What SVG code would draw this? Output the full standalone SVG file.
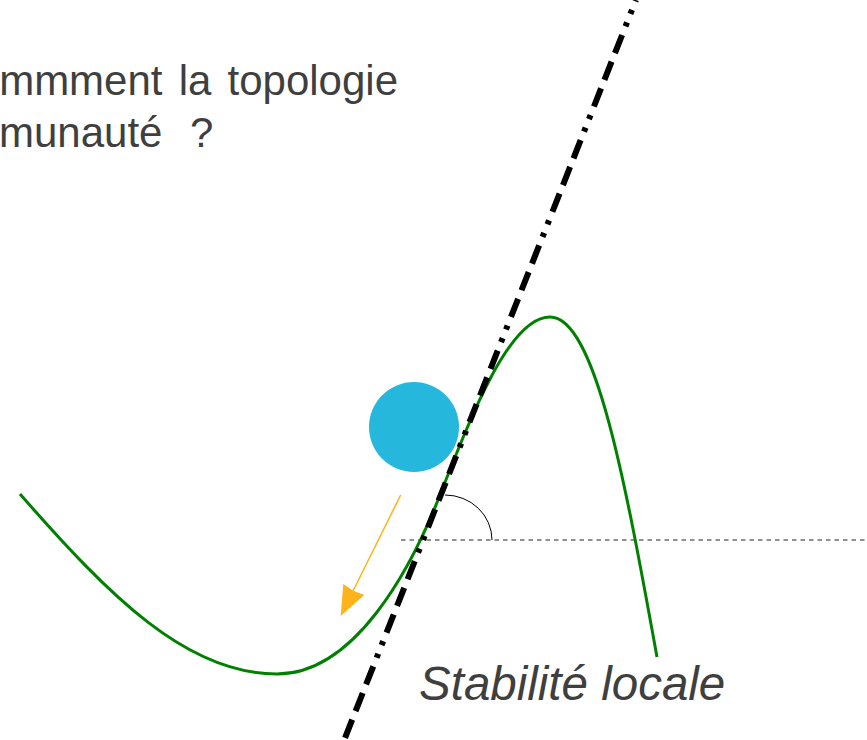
<svg xmlns="http://www.w3.org/2000/svg" width="867" height="740" viewBox="0 0 867 740">
  <style>
    .title { font-family: "Liberation Sans", Arial, sans-serif; font-size: 42px; fill: #3f3f3f; }
    .label { font-family: "Liberation Sans", Arial, sans-serif; font-size: 47.5px; font-style: italic; fill: #3f3f3f; }
  </style>
  <rect width="867" height="740" fill="#ffffff"/>
  <g id="title">
    <text class="title" x="398" y="95" text-anchor="end" word-spacing="4.5">mmment la topologie</text>
    <text class="title" x="-1" y="147" word-spacing="16">munauté ?</text>
  </g>
  <g id="reference-lines">
    <line x1="401" y1="540" x2="867" y2="540" stroke="#222222" stroke-width="1" stroke-dasharray="4.5 4"/>
    <path d="M445,495 A47,45 0 0 1 492,540" fill="none" stroke="#000000" stroke-width="1"/>
  </g>
  <g id="curve">
    <path d="M20,494 C110,597 187,674 277,674 C355,674 411,569 440,495 C473,411 510,317 550,317 C595,317 625,480 657,657" fill="none" stroke="#008000" stroke-width="3"/>
  </g>
  <g id="ball">
    <circle cx="414" cy="427" r="45" fill="#26b7dc"/>
  </g>
  <g id="connectors">
    <line x1="400.7" y1="495" x2="353" y2="591" stroke="#ffb31a" stroke-width="1.5"/>
    <polygon points="340.7,616 343.3,584 353.3,590.7 364.3,595" fill="#ffb31a"/>
    <path d="M635.9,0 L345,738" fill="none" stroke="#000000" stroke-width="6" stroke-dasharray="19.5 9.2 19.5 9.2 19.5 9.2 4.3 9.2 4.3 9.2" stroke-dashoffset="75.5"/>
  </g>
  <g id="caption">
    <text class="label" x="419" y="700">Stabilité locale</text>
  </g>
</svg>
